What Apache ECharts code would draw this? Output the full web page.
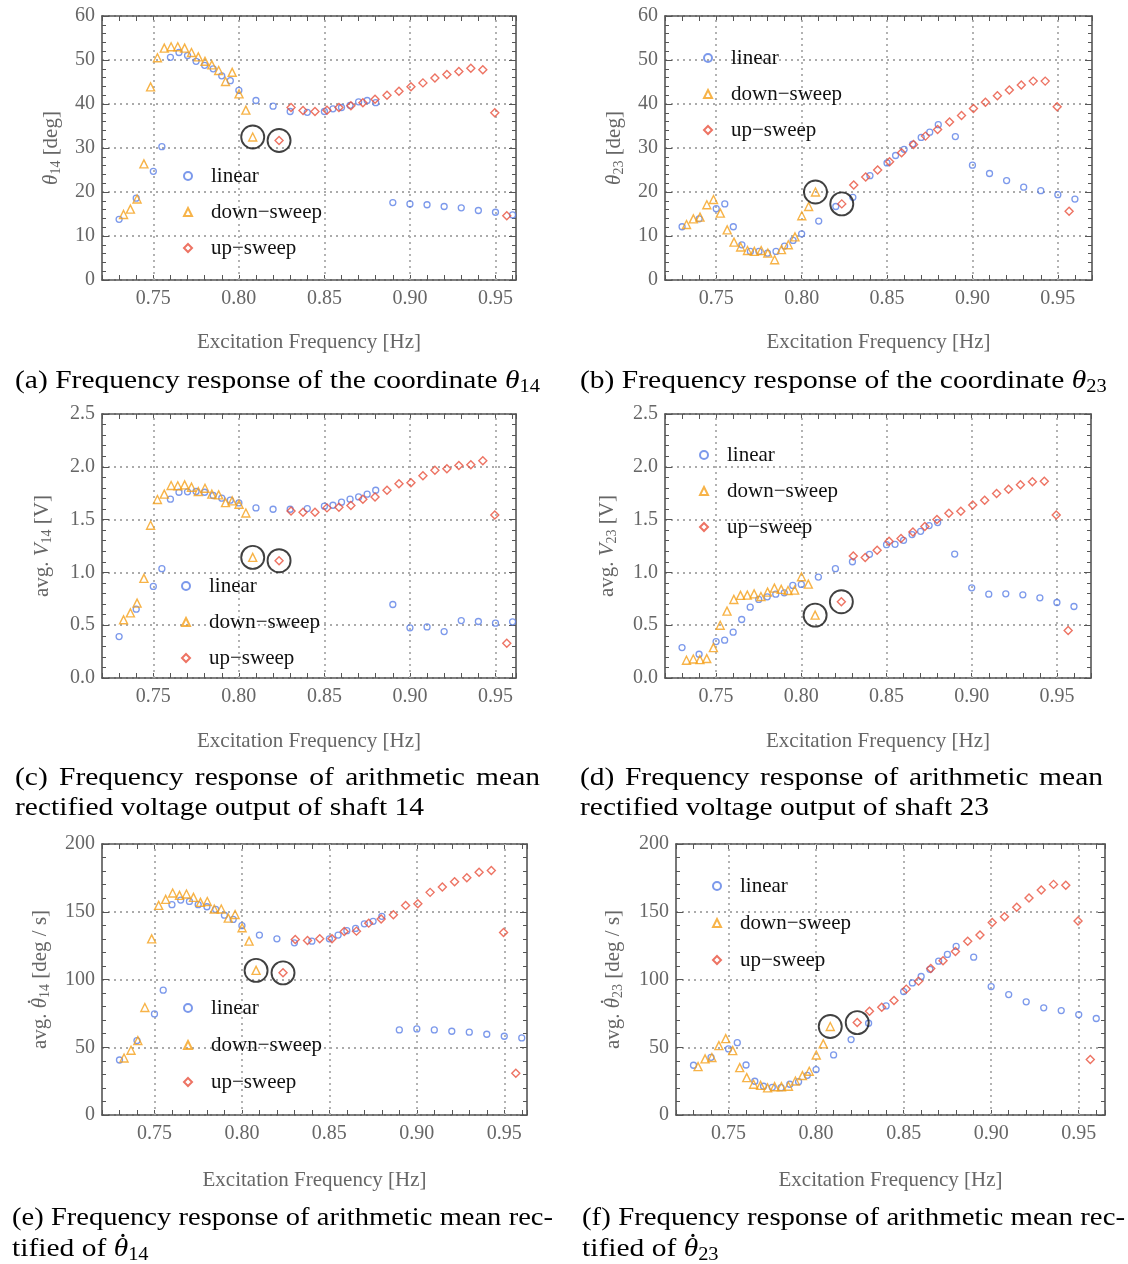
<!DOCTYPE html>
<html><head><meta charset="utf-8">
<script src="https://cdn.jsdelivr.net/npm/echarts@6/dist/echarts.min.js"></script>
<style>html,body{margin:0;padding:0;background:#fff}#c{width:1128px;height:1264px}</style>
</head><body><div id="c"></div>
<script>
// ---------- DATA ----------
const freqLinear = [0.73,0.74,0.75,0.755,0.76,0.765,0.77,0.775,0.78,0.785,0.79,0.795,0.80,0.81,0.82,0.83,0.84,0.85,0.855,0.86,0.865,0.87,0.875,0.88,0.89,0.90,0.91,0.92,0.93,0.94,0.95,0.96];
const freqDown = [0.7326,0.7366,0.7405,0.7445,0.7484,0.7524,0.7564,0.7604,0.7643,0.7683,0.7723,0.7763,0.7802,0.7842,0.7882,0.7922,0.7961,0.8001,0.8041,0.8081];
const freqUp = [0.8235,0.8305,0.8375,0.8445,0.8515,0.8585,0.8655,0.8725,0.8796,0.8866,0.8936,0.9006,0.9076,0.9146,0.9216,0.9286,0.9356,0.9426,0.9496,0.9566];

const aLinear = [13.8,18.6,24.7,30.3,50.6,51.7,51.0,49.7,48.8,48.0,46.4,45.3,43.1,40.8,39.5,38.3,38.1,38.3,38.9,39.2,39.7,40.5,40.8,40.3,17.6,17.3,17.1,16.7,16.4,15.8,15.4,14.8];
const aDown = [14.9,16.1,18.4,26.4,43.9,50.5,52.7,53.0,53.0,52.7,51.7,50.7,49.7,48.9,47.6,45.1,47.2,42.3,38.6,32.5];
const aUp = [31.7,39.2,38.5,38.3,38.6,39.2,39.6,40.3,41.1,42.0,42.9,43.9,44.8,45.9,46.7,47.4,48.1,47.8,38.0,14.6];

const bLinear = [12.1,13.9,16.2,17.3,12.1,8.0,6.5,6.5,6.1,6.5,7.7,9.0,10.5,13.4,16.7,18.8,23.7,26.6,28.3,29.7,30.9,32.4,33.6,35.3,32.6,26.1,24.2,22.6,21.1,20.3,19.4,18.4];
const bDown = [12.6,13.9,14.3,17.1,18.3,15.2,11.4,8.6,7.5,6.7,6.5,6.7,6.1,4.6,6.9,8.0,9.8,14.6,16.7,20.0];
const bUp = [17.3,21.6,23.4,25.0,26.9,28.9,30.8,32.7,34.2,35.9,37.4,39.0,40.4,41.9,43.2,44.3,45.2,45.2,39.4,15.6];

const cLinear = [0.392,0.652,0.867,1.035,1.693,1.759,1.763,1.766,1.759,1.728,1.703,1.684,1.658,1.611,1.598,1.598,1.604,1.627,1.636,1.665,1.693,1.715,1.741,1.778,0.696,0.475,0.484,0.440,0.544,0.535,0.519,0.532];
const cDown = [0.551,0.617,0.709,0.943,1.446,1.690,1.741,1.823,1.820,1.829,1.807,1.766,1.797,1.741,1.734,1.661,1.677,1.646,1.563,1.142];
const cUp = [1.111,1.582,1.570,1.570,1.611,1.617,1.633,1.693,1.715,1.778,1.839,1.848,1.915,1.968,1.981,2.013,2.019,2.057,1.544,0.329];

const dLinear = [0.288,0.225,0.345,0.358,0.434,0.554,0.671,0.744,0.769,0.794,0.807,0.877,0.886,0.956,1.035,1.101,1.171,1.263,1.266,1.304,1.358,1.389,1.443,1.472,1.174,0.854,0.794,0.797,0.788,0.759,0.715,0.677];
const dDown = [0.168,0.180,0.174,0.184,0.288,0.500,0.633,0.744,0.782,0.785,0.797,0.772,0.813,0.851,0.839,0.829,0.832,0.959,0.889,0.595];
const dUp = [0.722,1.155,1.142,1.209,1.294,1.320,1.383,1.434,1.500,1.560,1.579,1.639,1.684,1.747,1.788,1.829,1.858,1.864,1.544,0.449];

const eLinear = [40.6,54.9,74.6,92.1,155.2,158.6,157.6,155.2,153.7,151.7,147.5,144.3,139.7,132.8,130.0,127.1,128.3,130.0,132.8,136.0,137.7,141.1,142.9,146.6,62.8,63.5,62.8,61.8,61.1,59.6,58.1,56.9];
const eDown = [42.1,47.8,54.9,79.3,130.0,154.7,159.1,163.8,162.1,163.1,160.6,156.9,157.6,152.0,152.0,145.3,148.0,138.2,128.3,106.7];
const eUp = [104.9,129.6,128.7,130.0,130.0,135.5,135.7,141.6,144.6,147.8,154.7,155.9,164.3,168.2,172.2,175.1,179.1,180.5,134.7,30.8];

const fLinear = [36.7,42.6,48.8,53.4,36.9,24.9,21.2,20.4,20.2,22.7,24.6,29.3,33.5,44.3,55.7,67.7,80.5,91.1,97.5,102.2,107.5,113.5,118.5,124.4,116.5,94.8,88.9,83.5,79.1,77.1,74.1,71.2];
const fDown = [35.7,41.4,42.4,51.2,56.4,47.5,35.0,27.6,22.7,21.9,20.0,20.9,20.9,21.2,25.1,29.1,32.3,44.3,52.5,65.3];
const fUp = [68.2,76.6,79.5,84.5,92.9,98.8,108.1,113.8,120.7,128.3,132.8,142.1,146.3,153.4,160.1,166.0,170.2,169.5,143.1,40.9];

const xTickLabels = [0.75, 0.80, 0.85, 0.90, 0.95];
const yTicksDeg = [0, 10, 20, 30, 40, 50, 60];
const yTicksVolt = [0, 0.5, 1.0, 1.5, 2.0, 2.5];
const yTicksRate = [0, 50, 100, 150, 200];
const seriesNames = ['linear', 'down\u2212sweep', 'up\u2212sweep'];

// ---------- STYLE / LAYOUT ----------
const FONT = 'Liberation Serif';
const AXIS_C = '#555';
const LABEL_C = '#666';
const GRID_C = '#ababab';
const BLUE = '#5b7fe6', ORANGE = '#f5a01a', RED = '#e8503c';

// segment types: n normal, i italic, s subscript, d italic theta with dot above
const panels = [
  {lin:aLinear, down:aDown, up:aUp, yt:yTicksDeg, dec:0, yName:[['i','θ'],['s','14'],['n',' [deg]']], yNameX:51,
   left:102, top:16, width:414, height:264, xMin:0.72, xMax:0.962, xGap:52, leg:[183,164,12]},
  {lin:bLinear, down:bDown, up:bUp, yt:yTicksDeg, dec:0, yName:[['i','θ'],['s','23'],['n',' [deg]']], yNameX:614,
   left:665, top:16, width:427, height:264, xMin:0.72, xMax:0.97, xGap:52, leg:[703,46,12]},
  {lin:cLinear, down:cDown, up:cUp, yt:yTicksVolt, dec:1, yName:[['n','avg. '],['i','V'],['s','14'],['n',' [V]']], yNameX:42,
   left:102, top:414, width:414, height:264, xMin:0.72, xMax:0.962, xGap:53, leg:[181,574,12]},
  {lin:dLinear, down:dDown, up:dUp, yt:yTicksVolt, dec:1, yName:[['n','avg. '],['i','V'],['s','23'],['n',' [V]']], yNameX:607,
   left:665, top:414, width:426, height:264, xMin:0.72, xMax:0.97, xGap:53, leg:[699,443,12]},
  {lin:eLinear, down:eDown, up:eUp, yt:yTicksRate, dec:0, yName:[['n','avg. '],['d','θ'],['s','14'],['n',' [deg / s]']], yNameX:40,
   left:102, top:844, width:425, height:271, xMin:0.72, xMax:0.963, xGap:55, leg:[183,996,13]},
  {lin:fLinear, down:fDown, up:fUp, yt:yTicksRate, dec:0, yName:[['n','avg. '],['d','θ'],['s','23'],['n',' [deg / s]']], yNameX:613,
   left:676, top:844, width:429, height:271, xMin:0.72, xMax:0.965, xGap:55, leg:[712,874,13]}
];

const pts = (xs, ys) => xs.map((x, i) => [x, ys[i]]);
const isLabelTick = v => xTickLabels.some(t => Math.abs(t - v) < 1e-6);

// ---------- text helpers ----------
const mctx = document.createElement('canvas').getContext('2d');
function measure(t, size, italic) {
  mctx.font = (italic ? 'italic ' : '') + size + 'px "' + FONT + '"';
  return mctx.measureText(t).width;
}
function lineEls(segs, x0, y0, sc, F, color) {
  const els = []; let acc = 0;
  segs.forEach(([st, t]) => {
    const size = st === 's' ? Math.round(F * 0.68) : F;
    const italic = st === 'i' || st === 'd';
    const w = measure(t, size, italic);
    const dy = st === 's' ? F * 0.26 : 0;
    els.push({type: 'text', x: x0 + acc * sc, y: y0 + dy, scaleX: sc, silent: true,
      style: {text: t, fontSize: size, fontFamily: FONT, fontStyle: italic ? 'italic' : 'normal',
        fill: color, align: 'left', verticalAlign: 'middle'}});
    if (st === 'd') {
      els.push({type: 'circle', silent: true,
        shape: {cx: x0 + (acc + w * 0.64) * sc, cy: y0 - F * 0.52, r: Math.max(1.2, F * 0.062)},
        style: {fill: color}});
    }
    acc += w;
  });
  return {els: els, width: acc * sc};
}

const grid = [], xAxis = [], yAxis = [], series = [], legend = [], graphic = [];

panels.forEach((p, i) => {
  grid.push({left: p.left, top: p.top, width: p.width, height: p.height, containLabel: false});
  const axLine = {show: true, onZero: false, lineStyle: {color: AXIS_C, width: 1.6}};
  xAxis.push({
    type: 'value', gridIndex: i, position: 'bottom', min: p.xMin, max: p.xMax, interval: 0.01,
    axisLine: axLine, axisTick: {show: true, inside: true, length: 5, lineStyle: {color: AXIS_C, width: 1}},
    axisLabel: {show: true, margin: 9, color: LABEL_C, fontFamily: FONT, fontSize: 20,
      formatter: v => isLabelTick(v) ? v.toFixed(2) : ''},
    splitLine: {show: false},
    name: 'Excitation Frequency [Hz]', nameLocation: 'middle', nameGap: p.xGap,
    nameTextStyle: {color: LABEL_C, fontFamily: FONT, fontSize: 21}
  });
  xAxis.push({
    type: 'value', gridIndex: i, position: 'top', min: p.xMin, max: p.xMax, interval: 0.01,
    axisLine: axLine, axisTick: {show: true, inside: true, length: 5, lineStyle: {color: AXIS_C, width: 1}},
    axisLabel: {show: false}, splitLine: {show: false}
  });
  const yMin = p.yt[0], yMax = p.yt[p.yt.length - 1], yInt = p.yt[1] - p.yt[0];
  yAxis.push({
    type: 'value', gridIndex: i, position: 'left', min: yMin, max: yMax, interval: yInt,
    axisLine: axLine, axisTick: {show: true, inside: true, length: 7, lineStyle: {color: AXIS_C, width: 1}},
    minorTick: {show: true, splitNumber: 5, length: 4, lineStyle: {color: AXIS_C, width: 1}},
    axisLabel: {show: true, margin: 7, color: LABEL_C, fontFamily: FONT, fontSize: 20,
      formatter: v => v.toFixed(p.dec)},
    splitLine: {show: true, lineStyle: {color: GRID_C, type: [2, 4], width: 1.8}}
  });
  yAxis.push({
    type: 'value', gridIndex: i, position: 'right', min: yMin, max: yMax, interval: yInt,
    axisLine: axLine, axisTick: {show: true, inside: true, length: 7, lineStyle: {color: AXIS_C, width: 1}},
    minorTick: {show: true, splitNumber: 5, length: 4, lineStyle: {color: AXIS_C, width: 1}},
    axisLabel: {show: false}, splitLine: {show: false}
  });
  const xi = 2 * i, yi = 2 * i;
  series.push({
    type: 'scatter', name: seriesNames[0], xAxisIndex: xi, yAxisIndex: yi,
    data: pts(freqLinear, p.lin), symbol: 'circle', symbolSize: 6, z: 3,
    itemStyle: {color: 'rgba(255,255,255,0)', borderColor: BLUE, borderWidth: 1.3},
    markLine: {
      silent: true, symbol: ['none', 'none'], label: {show: false}, z: 1, animation: false,
      lineStyle: {color: GRID_C, type: [2, 4], width: 1.8},
      emphasis: {disabled: true},
      data: xTickLabels.map(v => ({xAxis: v}))
    }
  });
  series.push({
    type: 'scatter', name: seriesNames[1], xAxisIndex: xi, yAxisIndex: yi,
    data: pts(freqDown, p.down), symbol: 'triangle', symbolSize: 8, z: 4,
    itemStyle: {color: 'rgba(255,255,255,0)', borderColor: ORANGE, borderWidth: 1.4}
  });
  series.push({
    type: 'scatter', name: seriesNames[2], xAxisIndex: xi, yAxisIndex: yi,
    data: pts(freqUp, p.up), symbol: 'diamond', symbolSize: 8, z: 4,
    itemStyle: {color: 'rgba(255,255,255,0)', borderColor: RED, borderWidth: 1.4}
  });
  const nD = freqDown.length - 1;
  series.push({
    type: 'scatter', name: 'marked', xAxisIndex: xi, yAxisIndex: yi, silent: true,
    data: [[freqDown[nD], p.down[nD]], [freqUp[0], p.up[0]]],
    symbol: 'circle', symbolSize: 23, z: 5,
    itemStyle: {color: 'rgba(255,255,255,0)', borderColor: '#111', borderWidth: 1.9}
  });
  legend.push({
    left: p.leg[0], top: p.leg[1], orient: 'vertical', padding: 0, itemGap: p.leg[2],
    itemWidth: 8, itemHeight: 8, selectedMode: false,
    data: seriesNames.slice(),
    textStyle: {fontFamily: FONT, fontSize: 21, color: '#111', lineHeight: 24, padding: [0, 0, 0, 14]}
  });
  // rotated y-axis title
  const wTitle = lineEls(p.yName, 0, 0, 1, 21, LABEL_C).width;
  graphic.push({type: 'group', x: p.yNameX, y: p.top + p.height / 2, rotation: Math.PI / 2, silent: true,
    children: lineEls(p.yName, -wTitle / 2, 0, 1, 21, LABEL_C).els});
});

// ---------- CAPTIONS ----------
const CF = 26;
const captions = [
  {x: 15, y: 381, w: 525, segs: [['n', '(a) Frequency response of the coordinate '], ['i', 'θ'], ['s', '14']]},
  {x: 580, y: 381, segs: [['n', '(b) Frequency response of the coordinate '], ['i', 'θ'], ['s', '23']]},
  {x: 15, y: 778, w: 525, just: '(c) Frequency response of arithmetic mean'},
  {x: 15, y: 808, segs: [['n', 'rectified voltage output of shaft 14']]},
  {x: 580, y: 778, w: 523, just: '(d) Frequency response of arithmetic mean'},
  {x: 580, y: 808, segs: [['n', 'rectified voltage output of shaft 23']]},
  {x: 12, y: 1218, w: 541, just: '(e) Frequency response of arithmetic mean rec-'},
  {x: 12, y: 1249, segs: [['n', 'tified of '], ['d', 'θ'], ['s', '14']]},
  {x: 582, y: 1218, w: 543, just: '(f) Frequency response of arithmetic mean rec-'},
  {x: 582, y: 1249, segs: [['n', 'tified of '], ['d', 'θ'], ['s', '23']]}
];
const K = captions[0].w / lineEls(captions[0].segs, 0, 0, 1, CF, '#000').width;
captions.forEach(c => {
  if (c.segs) {
    lineEls(c.segs, c.x, c.y, K, CF, '#000').els.forEach(e => graphic.push(e));
  } else {
    const words = c.just.split(' ');
    const nat = words.map(w => measure(w, CF, false));
    const natSum = nat.reduce((a, b) => a + b, 0);
    const minGap = measure(' ', CF, false) * K;
    const sc = Math.min(K, (c.w - minGap * (words.length - 1)) / natSum);
    const gap = (c.w - natSum * sc) / (words.length - 1);
    let x = c.x;
    words.forEach((w, j) => {
      lineEls([['n', w]], x, c.y, sc, CF, '#000').els.forEach(e => graphic.push(e));
      x += nat[j] * sc + gap;
    });
  }
});

const chart = echarts.init(document.getElementById('c'), null, {renderer: 'canvas'});
chart.setOption({
  animation: false,
  backgroundColor: '#fff',
  grid, xAxis, yAxis, series, legend, graphic
});
</script>
</body></html>
